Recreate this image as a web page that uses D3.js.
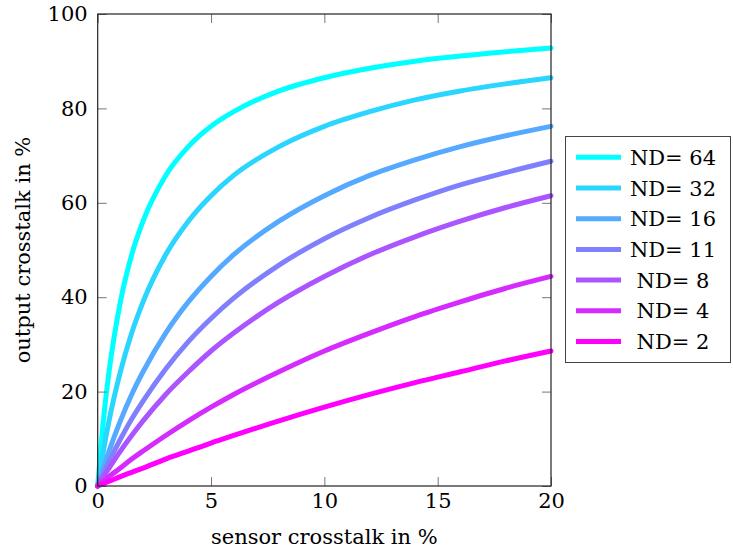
<!DOCTYPE html>
<html>
<head>
<meta charset="utf-8">
<script src="https://cdn.jsdelivr.net/npm/d3@7"></script>
<style>
  body { margin: 0; background: #fff; }
</style>
</head>
<body>
<script>
// Data
const xs = [0, 0.25, 0.5, 1, 1.5, 2, 3, 4, 5, 6, 8, 10, 12, 14, 16, 18, 20];
const nd64 = [0, 13.8, 24.2, 39.0, 49.0, 56.1, 65.8, 71.9, 76.2, 79.3, 83.7, 86.5, 88.5, 90.0, 91.1, 92.0, 92.8];
const nd32 = [0, 7.4, 13.8, 24.2, 32.4, 39.0, 49.0, 56.1, 61.5, 65.8, 71.9, 76.2, 79.3, 81.8, 83.7, 85.2, 86.5];
const nd16 = [0, 3.8, 7.4, 13.8, 19.4, 24.2, 32.4, 39.0, 44.4, 49.0, 56.1, 61.5, 65.8, 69.1, 71.9, 74.2, 76.2];
const nd11 = [0, 2.7, 5.2, 9.9, 14.2, 18.0, 24.8, 30.6, 35.5, 39.8, 46.8, 52.4, 56.9, 60.6, 63.8, 66.4, 68.8];
const nd8 = [0, 2.0, 3.8, 7.4, 10.7, 13.8, 19.4, 24.2, 28.6, 32.4, 39.0, 44.4, 49.0, 52.8, 56.1, 59.0, 61.5];
const nd4 = [0, 1.0, 2.0, 3.8, 5.7, 7.4, 10.7, 13.8, 16.7, 19.4, 24.2, 28.6, 32.4, 35.9, 39.0, 41.9, 44.4];
const nd2 = [0, 0.5, 1.0, 2.0, 2.9, 3.8, 5.7, 7.4, 9.1, 10.7, 13.8, 16.7, 19.4, 21.9, 24.2, 26.5, 28.6];

const labels = ["ND= 64", "ND= 32", "ND= 16", "ND= 11", "ND= 8", "ND= 4", "ND= 2"];
const series = [nd64, nd32, nd16, nd11, nd8, nd4, nd2];
const colors = ["#00ffff", "#2ad5ff", "#55aaff", "#8080ff", "#aa55ff", "#d52bff", "#ff00ff"];

const xTicks = [0, 5, 10, 15, 20];
const yTicks = [0, 20, 40, 60, 80, 100];

// Dimensions
const width = 733;
const height = 552;
const plot = { left: 97.7, right: 551, top: 14, bottom: 486 };
const font = "'DejaVu Serif', serif";
const fontSize = 21;
const tickLen = 9;

const svg = d3.select("body")
  .append("svg")
  .attr("width", width)
  .attr("height", height)
  .style("font-family", font);

// Scales
const x = d3.scaleLinear().domain([0, 20]).range([plot.left, plot.right]);
const y = d3.scaleLinear().domain([0, 100]).range([plot.bottom, plot.top]);

// Curves
const line = d3.line()
  .x((d, i) => x(xs[i]))
  .y(d => y(d))
  .curve(d3.curveMonotoneX);

svg.append("g")
  .selectAll("path")
  .data(series)
  .join("path")
  .attr("d", d => line(d))
  .attr("fill", "none")
  .attr("stroke", (d, i) => colors[i])
  .attr("stroke-width", 5)
  .attr("stroke-linejoin", "round")
  .attr("stroke-linecap", "round");

// Axes (ticks point inwards, mirrored on top/right)
svg.append("g")
  .attr("transform", `translate(0,${plot.bottom})`)
  .call(d3.axisBottom(x).tickValues(xTicks).tickSize(-tickLen).tickPadding(7));
svg.append("g")
  .attr("transform", `translate(${plot.left},0)`)
  .call(d3.axisLeft(y).tickValues(yTicks).tickSize(-tickLen).tickPadding(10));
svg.append("g")
  .attr("transform", `translate(0,${plot.top})`)
  .call(d3.axisTop(x).tickValues(xTicks).tickSize(-tickLen).tickFormat(""));
svg.append("g")
  .attr("transform", `translate(${plot.right},0)`)
  .call(d3.axisRight(y).tickValues(yTicks).tickSize(-tickLen).tickFormat(""));

svg.selectAll(".domain").remove();
svg.selectAll(".tick line").attr("stroke", "#777").attr("stroke-width", 1);
svg.selectAll(".tick text")
  .attr("font-family", font)
  .attr("font-size", fontSize)
  .attr("fill", "#000");

// Frame
svg.append("rect")
  .attr("x", plot.left)
  .attr("y", plot.top)
  .attr("width", plot.right - plot.left)
  .attr("height", plot.bottom - plot.top)
  .attr("fill", "none")
  .attr("stroke", "#222")
  .attr("stroke-width", 1.2);

// Axis labels
svg.append("text")
  .attr("x", (plot.left + plot.right) / 2)
  .attr("y", 544)
  .attr("text-anchor", "middle")
  .attr("font-size", fontSize)
  .text("sensor crosstalk in %");

svg.append("text")
  .attr("transform", "rotate(-90)")
  .attr("x", -(plot.top + plot.bottom) / 2)
  .attr("y", 30)
  .attr("text-anchor", "middle")
  .attr("font-size", fontSize)
  .text("output crosstalk in %");

// Legend
const legend = svg.append("g");
legend.append("rect")
  .attr("x", 565.5)
  .attr("y", 136.5)
  .attr("width", 165)
  .attr("height", 226)
  .attr("fill", "#fff")
  .attr("stroke", "#444")
  .attr("stroke-width", 1);

const rows = legend.selectAll("g.row")
  .data(labels)
  .join("g")
  .attr("class", "row")
  .attr("transform", (d, i) => `translate(0,${157.3 + i * 30.7})`);

rows.append("line")
  .attr("x1", 576)
  .attr("x2", 621)
  .attr("stroke", (d, i) => colors[i])
  .attr("stroke-width", 5);

rows.append("text")
  .attr("x", 673)
  .attr("dy", "0.36em")
  .attr("text-anchor", "middle")
  .attr("font-size", fontSize)
  .text(d => d);
</script>
</body>
</html>
